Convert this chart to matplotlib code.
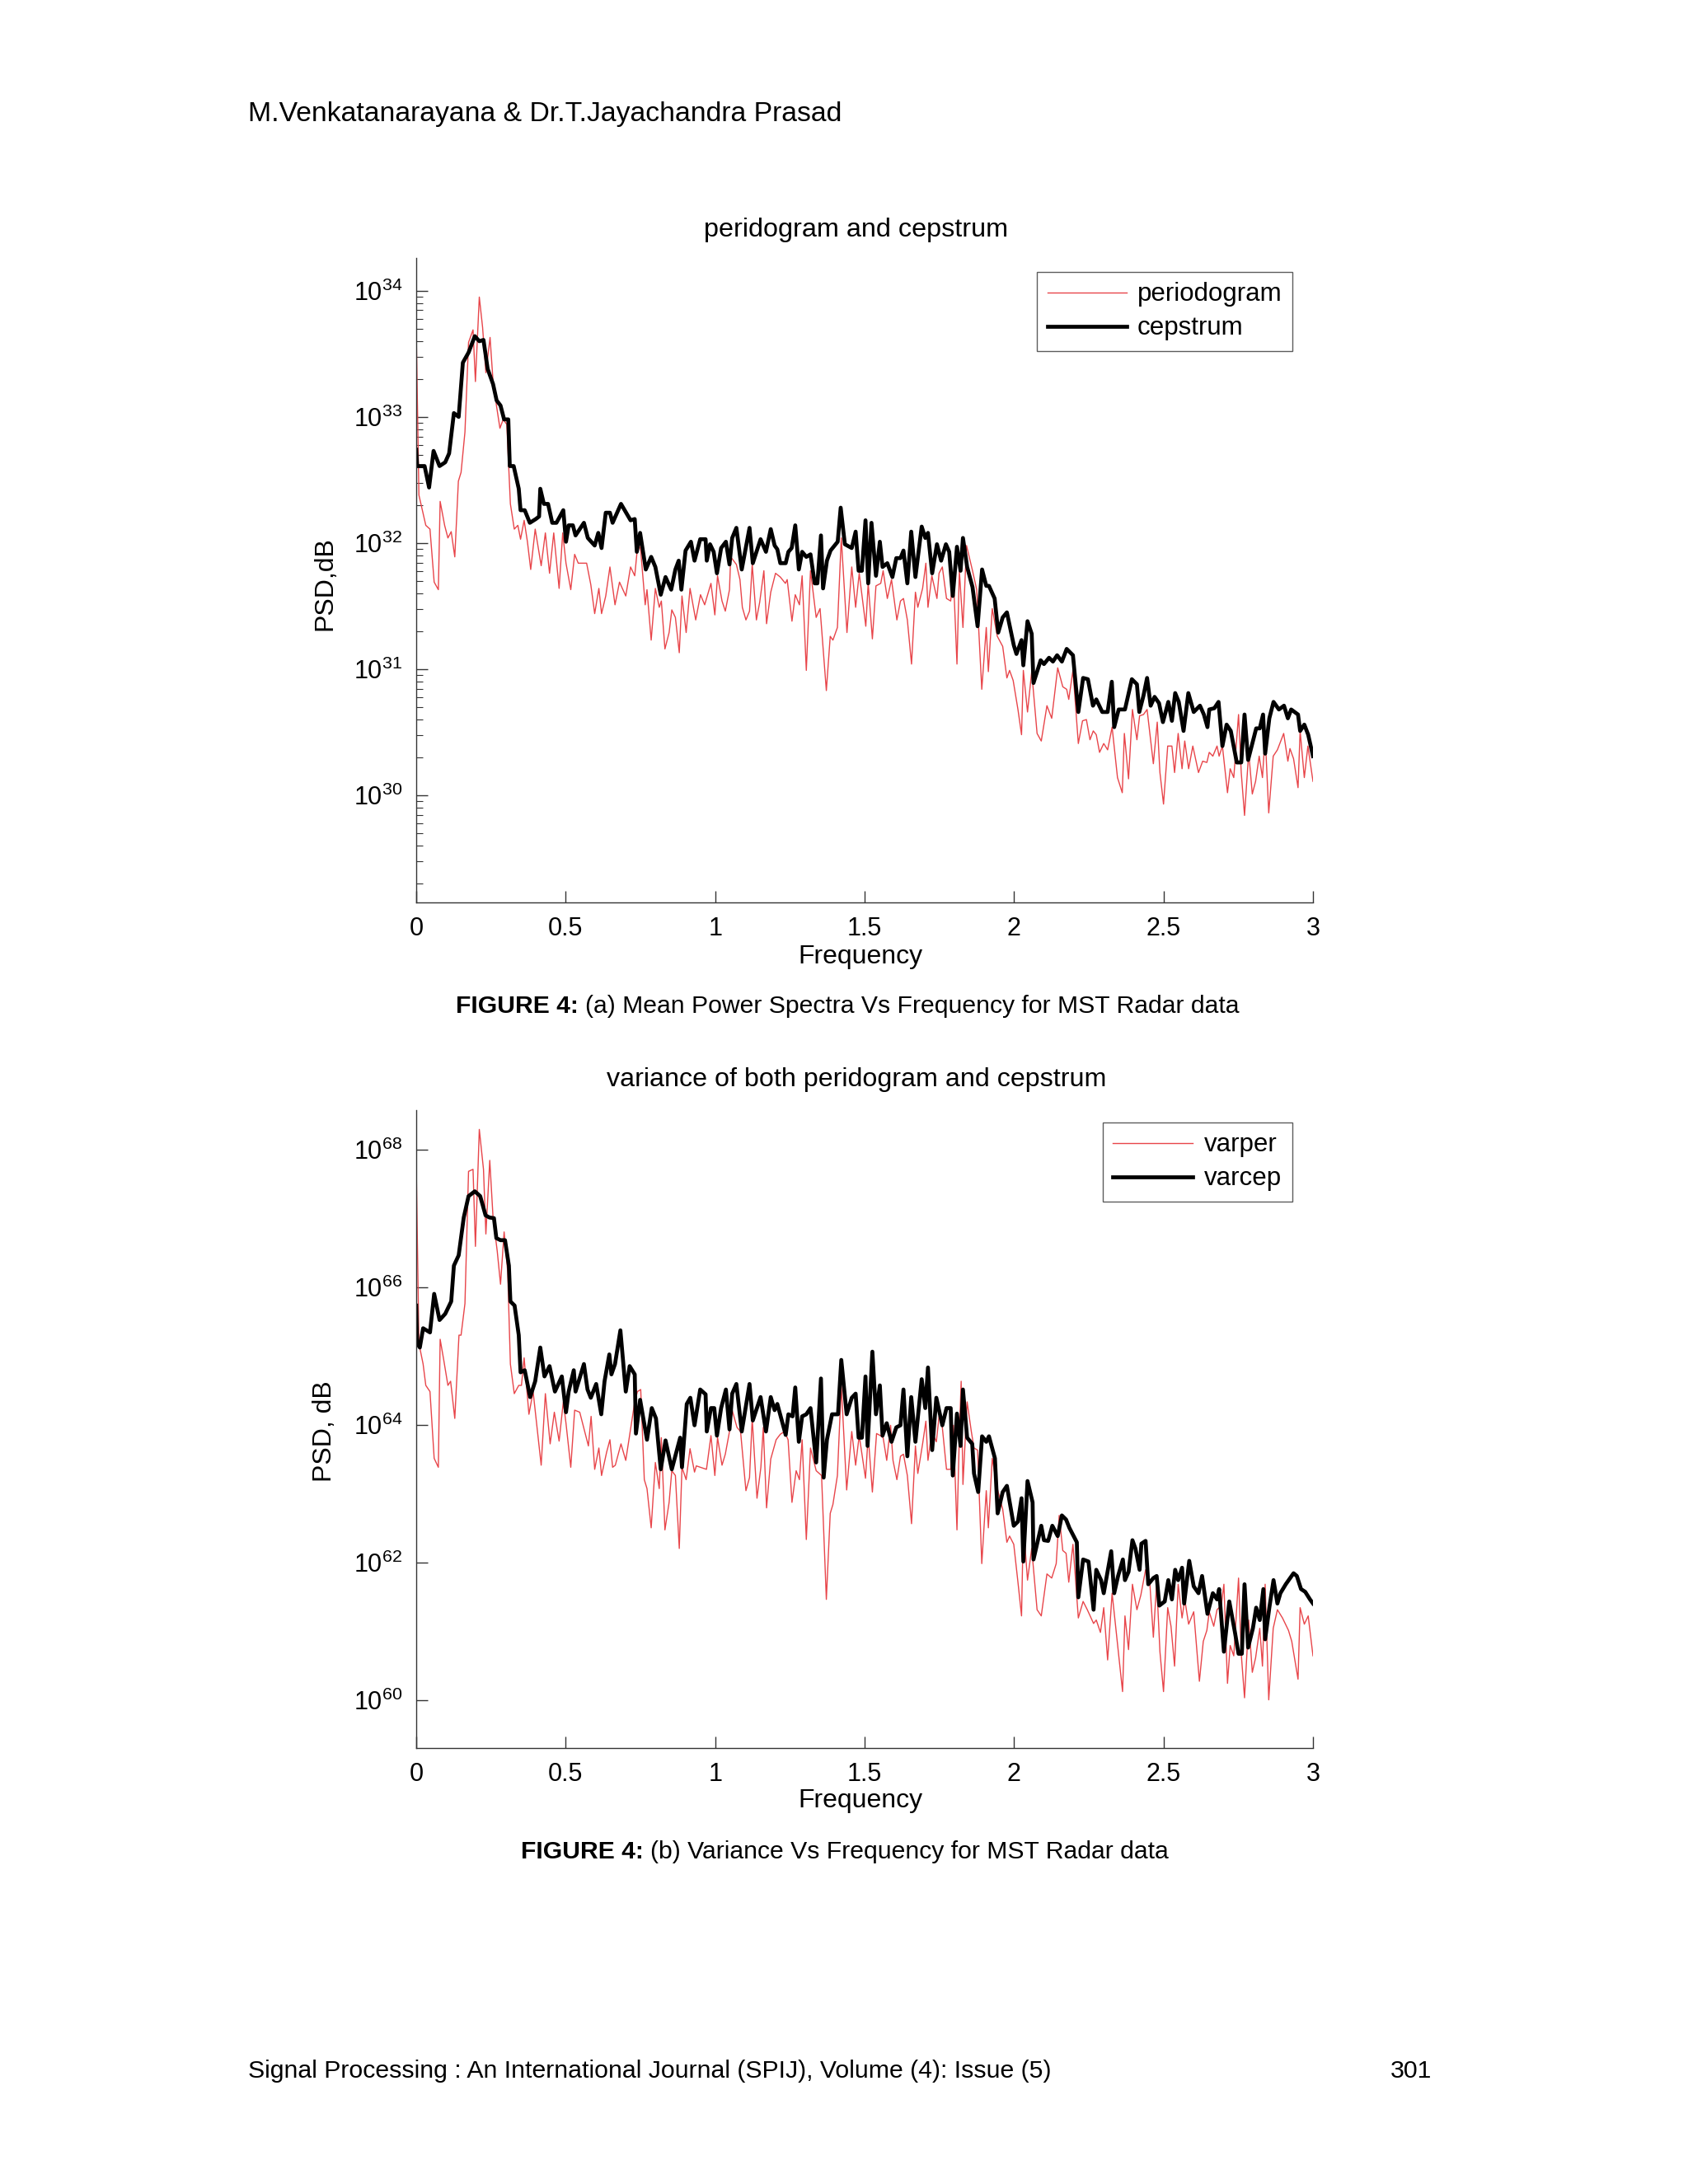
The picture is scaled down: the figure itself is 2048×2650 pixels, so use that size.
import numpy as np
import matplotlib
matplotlib.use("Agg")
import matplotlib.pyplot as plt
from matplotlib.ticker import LogLocator, NullLocator, FixedLocator

plt.rcParams['font.family'] = ['Liberation Sans', 'DejaVu Sans']
plt.rcParams['mathtext.fontset'] = 'custom'
plt.rcParams['mathtext.rm'] = 'Liberation Sans'

# ---- panel (a): mean power spectra, values as log10(PSD) ----
per_f = [0.000, 0.009, 0.032, 0.046, 0.060, 0.074, 0.080, 0.095, 0.106, 0.117, 0.129, 0.141, 0.150,
         0.163, 0.175, 0.190, 0.198, 0.211, 0.222, 0.233, 0.247, 0.257, 0.269, 0.280, 0.291, 0.303,
         0.315, 0.328, 0.340, 0.349, 0.361, 0.372, 0.383, 0.398, 0.418, 0.432, 0.446, 0.460, 0.478,
         0.490, 0.501, 0.517, 0.530, 0.542, 0.570, 0.584, 0.597, 0.611, 0.620, 0.634, 0.648, 0.665,
         0.680, 0.701, 0.717,
         0.731, 0.742, 0.751, 0.766, 0.772, 0.786, 0.800, 0.813, 0.820, 0.832, 0.846, 0.855, 0.867,
         0.880, 0.889, 0.903, 0.916, 0.935, 0.951, 0.965, 0.986, 0.999, 1.008, 1.023, 1.034, 1.048,
         1.052, 1.071, 1.083, 1.091, 1.103, 1.115, 1.124, 1.138, 1.149, 1.163, 1.172, 1.186, 1.202,
         1.218, 1.235, 1.241, 1.257, 1.268, 1.282, 1.291, 1.305, 1.319, 1.338, 1.351, 1.372, 1.385,
         1.394, 1.409, 1.422, 1.441, 1.457, 1.470, 1.482, 1.504,
         1.512, 1.526, 1.538, 1.554, 1.562, 1.576, 1.590, 1.608, 1.620, 1.630, 1.643, 1.657, 1.670,
         1.678, 1.694, 1.705, 1.712, 1.725, 1.742, 1.749, 1.760, 1.774, 1.788, 1.797, 1.809, 1.817,
         1.829, 1.841, 1.861, 1.875, 1.892, 1.907, 1.914, 1.927, 1.944, 1.962, 1.976, 1.985, 1.997,
         2.013, 2.025, 2.031, 2.045, 2.059, 2.077, 2.091, 2.110, 2.126, 2.146, 2.163, 2.176, 2.183,
         2.197, 2.215, 2.229, 2.242, 2.254, 2.265,
         2.275, 2.286, 2.300, 2.313, 2.328, 2.346, 2.362, 2.369, 2.383, 2.396, 2.411, 2.420, 2.433,
         2.445, 2.466, 2.479, 2.488, 2.500, 2.514, 2.528, 2.537, 2.549, 2.562, 2.571, 2.584, 2.598,
         2.617, 2.631, 2.645, 2.653, 2.665, 2.679, 2.686, 2.697, 2.714, 2.723, 2.735, 2.751, 2.760,
         2.771, 2.785, 2.797, 2.808, 2.820, 2.831, 2.840, 2.852, 2.867, 2.881, 2.902, 2.916, 2.923,
         2.935, 2.950, 2.957, 2.971, 2.983, 3.000]
per_db = [33.68, 32.38, 32.14, 32.11, 31.69, 31.63, 32.33, 32.14, 32.04, 32.09, 31.89, 32.49, 32.56,
          32.88, 33.59, 33.69, 33.28, 33.95, 33.71, 33.35, 33.63, 33.28, 33.08, 32.91, 32.98, 32.94,
          32.31, 32.11, 32.14, 32.03, 32.18, 32.01, 31.79, 32.11, 31.82, 32.08, 31.76, 32.08, 31.64,
          32.08, 31.84, 31.63, 31.91, 31.84, 31.84, 31.67, 31.44, 31.64, 31.44, 31.58, 31.81, 31.51,
          31.69, 31.58, 31.81,
          31.74, 32.01, 31.94, 31.51, 31.63, 31.23, 31.64, 31.49, 31.54, 31.16, 31.29, 31.47, 31.41,
          31.13, 31.58, 31.29, 31.64, 31.39, 31.59, 31.51, 31.68, 31.43, 31.74, 31.54, 31.46, 31.63,
          31.89, 31.83, 31.71, 31.49, 31.39, 31.46, 31.83, 31.39, 31.53, 31.78, 31.36, 31.61, 31.76,
          31.73, 31.68, 31.71, 31.38, 31.59, 31.51, 31.74, 30.99, 31.78, 31.41, 31.48, 30.83, 31.26,
          31.23, 31.33, 32.04, 31.29, 31.81, 31.49, 31.76, 31.34,
          31.68, 31.24, 31.66, 31.68, 31.78, 31.56, 31.71, 31.39, 31.54, 31.56, 31.39, 31.04, 31.61,
          31.49, 31.64, 31.84, 31.49, 31.74, 31.56, 31.76, 31.81, 31.56, 31.54, 31.74, 31.04, 31.78,
          31.33, 31.98, 31.78, 31.63, 30.84, 31.33, 30.98, 31.48, 31.26, 31.18, 30.93, 30.99, 30.91,
          30.68, 30.48, 30.99, 30.66, 30.98, 30.49, 30.43, 30.71, 30.61, 31.01, 30.86, 30.84, 30.76,
          30.99, 30.41, 30.59, 30.60, 30.44, 30.51,
          30.48, 30.34, 30.41, 30.36, 30.54, 30.14, 30.02, 30.49, 30.13, 30.68, 30.44, 30.63, 30.64,
          30.68, 30.25, 30.58, 30.18, 29.93, 30.39, 30.39, 30.18, 30.49, 30.21, 30.43, 30.21, 30.39,
          30.18, 30.27, 30.26, 30.34, 30.31, 30.39, 30.31, 30.39, 30.02, 30.21, 30.14, 30.64, 30.18,
          29.84, 30.34, 30.01, 30.11, 30.31, 30.14, 30.48, 29.86, 30.31, 30.36, 30.49, 30.27, 30.37,
          30.29, 30.06, 30.51, 30.14, 30.39, 30.11]

cep_f = [0.000, 0.003, 0.028, 0.043, 0.058, 0.078, 0.097, 0.110, 0.126, 0.142, 0.156, 0.175, 0.196,
         0.211, 0.225, 0.239, 0.257, 0.269, 0.282, 0.294, 0.308, 0.313, 0.326, 0.343, 0.349, 0.363,
         0.380, 0.400, 0.411, 0.415, 0.427, 0.441, 0.455, 0.469, 0.492, 0.501, 0.510, 0.524, 0.533,
         0.561, 0.574, 0.597, 0.609, 0.620, 0.634, 0.648, 0.657, 0.685, 0.717,
         0.731, 0.738, 0.749, 0.768, 0.786, 0.800, 0.818, 0.834, 0.853, 0.867, 0.878, 0.887, 0.901,
         0.919, 0.931, 0.950, 0.968, 0.972, 0.983, 0.995, 1.006, 1.020, 1.036, 1.048, 1.057, 1.071,
         1.089, 1.115, 1.126, 1.152, 1.170, 1.186, 1.199, 1.208, 1.218, 1.236, 1.245, 1.256, 1.268,
         1.280, 1.291, 1.305, 1.319, 1.333, 1.342, 1.354, 1.361, 1.374, 1.386, 1.410, 1.420, 1.434,
         1.457, 1.470, 1.480, 1.491, 1.503,
         1.512, 1.523, 1.538, 1.551, 1.560, 1.576, 1.593, 1.606, 1.620, 1.630, 1.643, 1.656, 1.670,
         1.691, 1.703, 1.712, 1.726, 1.742, 1.756, 1.772, 1.783, 1.795, 1.809, 1.821, 1.829, 1.843,
         1.861, 1.878, 1.893, 1.907, 1.916, 1.935, 1.947, 1.962, 1.976, 1.999, 2.008, 2.025, 2.031,
         2.045, 2.059, 2.065, 2.089, 2.100, 2.117, 2.130, 2.144, 2.160, 2.176, 2.197, 2.215, 2.231,
         2.247, 2.264,
         2.275, 2.295, 2.313, 2.327, 2.335, 2.350, 2.371, 2.394, 2.411, 2.419, 2.433, 2.445, 2.457,
         2.470, 2.485, 2.498, 2.516, 2.528, 2.539, 2.551, 2.567, 2.583, 2.601, 2.622, 2.635, 2.647,
         2.653, 2.670, 2.684, 2.697, 2.711, 2.725, 2.745, 2.760, 2.771, 2.783, 2.797, 2.810, 2.822,
         2.833, 2.840, 2.854, 2.868, 2.886, 2.903, 2.916, 2.927, 2.950, 2.957, 2.971, 2.984, 3.000]
cep_db = [32.74, 32.61, 32.61, 32.44, 32.73, 32.61, 32.64, 32.71, 33.03, 33.00, 33.43, 33.51, 33.64,
          33.60, 33.61, 33.38, 33.26, 33.13, 33.09, 32.98, 32.98, 32.61, 32.61, 32.43, 32.26, 32.26,
          32.16, 32.19, 32.21, 32.43, 32.31, 32.31, 32.16, 32.16, 32.26, 32.01, 32.14, 32.14, 32.06,
          32.16, 32.04, 31.98, 32.08, 31.96, 32.24, 32.24, 32.16, 32.31, 32.18,
          32.19, 31.93, 32.08, 31.79, 31.89, 31.81, 31.59, 31.73, 31.63, 31.79, 31.86, 31.63, 31.94,
          32.01, 31.86, 32.03, 32.03, 31.86, 31.99, 31.93, 31.76, 31.96, 32.01, 31.83, 32.04, 32.12,
          31.79, 32.12, 31.84, 32.03, 31.93, 32.11, 31.98, 31.95, 31.84, 31.84, 31.93, 31.96, 32.14,
          31.79, 31.93, 31.89, 31.91, 31.68, 31.68, 32.06, 31.64, 31.86, 31.94, 32.01, 32.28, 31.99,
          31.96, 32.09, 31.78, 31.78, 32.18,
          31.68, 32.16, 31.74, 32.01, 31.81, 31.84, 31.73, 31.88, 31.88, 31.94, 31.68, 32.09, 31.73,
          32.13, 32.04, 32.08, 31.76, 31.99, 31.86, 31.99, 31.93, 31.58, 31.97, 31.78, 32.04, 31.81,
          31.65, 31.34, 31.79, 31.66, 31.66, 31.56, 31.29, 31.41, 31.45, 31.19, 31.12, 31.23, 31.03,
          31.38, 31.28, 30.89, 31.07, 31.04, 31.09, 31.06, 31.11, 31.06, 31.16, 31.11, 30.66, 30.93,
          30.92, 30.71,
          30.76, 30.66, 30.66, 30.90, 30.54, 30.68, 30.68, 30.92, 30.88, 30.66, 30.79, 30.93, 30.71,
          30.78, 30.73, 30.58, 30.74, 30.59, 30.81, 30.74, 30.51, 30.81, 30.66, 30.71, 30.64, 30.54,
          30.68, 30.69, 30.74, 30.39, 30.56, 30.51, 30.26, 30.26, 30.64, 30.28, 30.41, 30.53, 30.53,
          30.64, 30.33, 30.61, 30.74, 30.68, 30.71, 30.61, 30.68, 30.64, 30.51, 30.56, 30.48, 30.31]

# ---- panel (b): variance, values as log10 ----
varper_f = [0.000, 0.009, 0.023, 0.032, 0.046, 0.060, 0.074, 0.080, 0.092, 0.106, 0.115, 0.129, 0.143,
            0.150, 0.163, 0.175, 0.190, 0.198, 0.211, 0.225, 0.233, 0.246, 0.257, 0.271, 0.282, 0.294,
            0.306, 0.315, 0.328, 0.343, 0.352, 0.361, 0.377, 0.391, 0.418, 0.432, 0.448, 0.462, 0.478,
            0.492, 0.501, 0.517, 0.530, 0.547, 0.576, 0.585, 0.597, 0.611, 0.620, 0.637, 0.648, 0.657,
            0.666, 0.685, 0.701, 0.717,
            0.731, 0.740, 0.751, 0.763, 0.772, 0.786, 0.800, 0.813, 0.820, 0.832, 0.846, 0.855, 0.867,
            0.880, 0.889, 0.903, 0.916, 0.931, 0.937, 0.971, 0.986, 0.999, 1.008, 1.023, 1.034, 1.048,
            1.057, 1.073, 1.085, 1.103, 1.115, 1.124, 1.140, 1.153, 1.161, 1.172, 1.186, 1.204, 1.218,
            1.232, 1.244, 1.257, 1.271, 1.282, 1.291, 1.305, 1.319, 1.338, 1.356, 1.372, 1.385, 1.394,
            1.409, 1.422, 1.440, 1.457, 1.470, 1.482, 1.503,
            1.512, 1.526, 1.540, 1.553, 1.562, 1.574, 1.587, 1.595, 1.608, 1.620, 1.630, 1.643, 1.657,
            1.670, 1.678, 1.694, 1.705, 1.712, 1.725, 1.740, 1.749, 1.760, 1.774, 1.788, 1.797, 1.809,
            1.817, 1.823, 1.829, 1.843, 1.857, 1.866, 1.878, 1.892, 1.907, 1.914, 1.927, 1.944, 1.962,
            1.976, 1.985, 1.999, 2.013, 2.025, 2.031, 2.045, 2.059, 2.077, 2.091, 2.110, 2.126, 2.141,
            2.151, 2.163, 2.174, 2.183, 2.197, 2.215, 2.231, 2.245, 2.266,
            2.275, 2.289, 2.300, 2.313, 2.328, 2.346, 2.363, 2.371, 2.383, 2.396, 2.411, 2.424, 2.440,
            2.454, 2.466, 2.477, 2.488, 2.500, 2.514, 2.525, 2.537, 2.549, 2.562, 2.571, 2.584, 2.601,
            2.620, 2.633, 2.645, 2.653, 2.668, 2.679, 2.693, 2.702, 2.714, 2.723, 2.735, 2.751, 2.760,
            2.771, 2.785, 2.797, 2.808, 2.822, 2.831, 2.840, 2.852, 2.867, 2.881, 2.898, 2.918, 2.929,
            2.950, 2.957, 2.971, 2.984, 3.000]
varper_db = [67.77, 65.18, 64.88, 64.57, 64.48, 63.51, 63.38, 65.24, 64.94, 64.57, 64.63, 64.09, 65.30,
             65.30, 65.76, 67.68, 67.71, 66.59, 68.29, 67.71, 66.77, 67.84, 67.01, 66.52, 66.04, 66.80,
             66.22, 64.88, 64.45, 64.57, 64.57, 64.97, 64.15, 64.48, 63.41, 64.45, 63.72, 64.18, 63.76,
             64.33, 64.02, 63.38, 64.21, 64.18, 63.69, 64.12, 63.35, 63.66, 63.26, 63.60, 63.78, 63.38,
             63.41, 63.72, 63.48, 63.93,
             64.33, 64.48, 64.51, 63.20, 63.07, 62.50, 63.45, 63.07, 63.81, 62.47, 62.87, 63.33, 63.26,
             62.20, 63.38, 63.20, 63.65, 63.31, 63.40, 63.35, 63.84, 63.26, 63.81, 63.41, 63.57, 63.90,
             64.21, 63.96, 63.90, 63.04, 63.23, 64.09, 62.93, 63.38, 63.96, 62.79, 63.50, 63.78, 63.86,
             63.90, 63.78, 62.87, 63.33, 63.20, 63.78, 62.33, 63.66, 63.33, 63.26, 61.46, 62.71, 62.84,
             63.26, 64.57, 63.05, 63.90, 63.41, 63.84, 63.22,
             63.84, 63.02, 63.87, 63.84, 63.81, 63.48, 63.99, 63.48, 63.20, 63.54, 63.57, 63.26, 62.56,
             63.69, 63.29, 63.72, 64.05, 63.48, 63.90, 63.75, 64.12, 63.96, 63.35, 63.35, 63.99, 62.47,
             63.84, 64.63, 63.13, 64.33, 63.90, 63.66, 63.63, 61.98, 63.04, 62.50, 63.51, 63.07, 62.77,
             62.29, 62.38, 62.26, 61.71, 61.22, 62.56, 61.74, 62.20, 61.31, 61.22, 61.83, 61.77, 61.98,
             62.68, 62.17, 62.13, 61.71, 62.26, 61.19, 61.43, 61.31, 61.11,
             61.16, 60.98, 61.34, 60.58, 61.55, 60.82, 60.12, 61.22, 60.73, 61.68, 61.31, 61.52, 61.89,
             61.71, 60.91, 61.71, 60.70, 60.12, 61.34, 61.07, 60.49, 61.68, 61.19, 61.46, 61.10, 61.28,
             60.27, 60.85, 61.01, 61.28, 61.07, 61.31, 61.37, 61.68, 60.24, 60.79, 60.64, 61.77, 60.67,
             60.03, 61.16, 60.40, 60.61, 61.04, 60.49, 61.68, 60.00, 61.04, 61.31, 61.19, 61.01, 60.85,
             60.30, 61.34, 61.10, 61.22, 60.64]

varcep_f = [0.000, 0.003, 0.012, 0.023, 0.046, 0.060, 0.078, 0.097, 0.117, 0.126, 0.142, 0.159, 0.175,
            0.196, 0.214, 0.232, 0.245, 0.260, 0.268, 0.282, 0.297, 0.310, 0.315, 0.329, 0.343, 0.349,
            0.363, 0.381, 0.398, 0.415, 0.429, 0.446, 0.464, 0.487, 0.501, 0.510, 0.527, 0.533, 0.561,
            0.573, 0.584, 0.602, 0.619, 0.630, 0.646, 0.653, 0.665, 0.683, 0.701, 0.714,
            0.731, 0.735, 0.749, 0.772, 0.788, 0.802, 0.818, 0.834, 0.855, 0.883, 0.889, 0.905, 0.917,
            0.931, 0.950, 0.968, 0.972, 0.986, 0.997, 1.006, 1.020, 1.036, 1.048, 1.057, 1.071, 1.089,
            1.115, 1.126, 1.152, 1.170, 1.186, 1.199, 1.208, 1.236, 1.245, 1.259, 1.268, 1.280, 1.291,
            1.305, 1.319, 1.338, 1.354, 1.363, 1.374, 1.391, 1.411, 1.422, 1.440, 1.457, 1.470, 1.480,
            1.491, 1.503,
            1.510, 1.526, 1.538, 1.551, 1.560, 1.574, 1.590, 1.606, 1.620, 1.630, 1.643, 1.656, 1.670,
            1.691, 1.703, 1.712, 1.726, 1.740, 1.760, 1.774, 1.788, 1.795, 1.809, 1.821, 1.829, 1.843,
            1.860, 1.866, 1.880, 1.893, 1.907, 1.916, 1.936, 1.945, 1.962, 1.976, 1.999, 2.013, 2.025,
            2.031, 2.045, 2.062, 2.065, 2.091, 2.100, 2.114, 2.128, 2.146, 2.160, 2.174, 2.185, 2.210,
            2.215, 2.231, 2.249, 2.266,
            2.275, 2.291, 2.300, 2.325, 2.335, 2.348, 2.364, 2.371, 2.383, 2.396, 2.406, 2.420, 2.426,
            2.440, 2.449, 2.466, 2.477, 2.486, 2.504, 2.516, 2.528, 2.539, 2.549, 2.562, 2.569, 2.586,
            2.601, 2.617, 2.629, 2.647, 2.665, 2.679, 2.686, 2.702, 2.720, 2.739, 2.751, 2.762, 2.771,
            2.783, 2.799, 2.810, 2.822, 2.834, 2.840, 2.854, 2.868, 2.881, 2.891, 2.909, 2.935, 2.946,
            2.960, 2.974, 2.990, 3.000]
varcep_db = [65.73, 65.18, 65.12, 65.40, 65.34, 65.90, 65.52, 65.61, 65.79, 66.31, 66.46, 67.01, 67.32,
             67.39, 67.32, 67.04, 67.01, 67.00, 66.71, 66.68, 66.68, 66.31, 65.79, 65.73, 65.30, 64.76,
             64.79, 64.40, 64.63, 65.12, 64.70, 64.85, 64.48, 64.70, 64.18, 64.48, 64.79, 64.48, 64.88,
             64.51, 64.39, 64.59, 64.15, 64.63, 65.02, 64.73, 64.88, 65.37, 64.48, 64.85,
             64.73, 63.87, 64.36, 63.78, 64.24, 64.09, 63.35, 63.77, 63.35, 63.81, 63.38, 64.30, 64.39,
             63.99, 64.51, 64.44, 63.90, 64.24, 64.24, 63.84, 64.24, 64.51, 63.93, 64.45, 64.59, 63.90,
             64.59, 64.06, 64.40, 63.90, 64.40, 64.21, 64.30, 63.85, 64.15, 64.12, 64.54, 63.75, 64.12,
             64.15, 64.24, 63.45, 64.67, 63.23, 63.78, 64.15, 64.15, 64.94, 64.15, 64.39, 64.45, 63.81,
             63.81, 64.70,
             63.69, 65.06, 64.15, 64.57, 63.84, 64.02, 63.75, 63.96, 63.99, 64.51, 63.54, 64.40, 63.75,
             64.66, 64.24, 64.83, 63.63, 64.39, 63.99, 64.24, 64.24, 63.26, 64.16, 63.69, 64.51, 63.81,
             63.72, 63.29, 63.02, 63.83, 63.75, 63.83, 63.51, 62.71, 63.02, 63.11, 62.53, 62.59, 62.93,
             62.01, 63.18, 62.87, 62.04, 62.53, 62.32, 62.31, 62.53, 62.38, 62.68, 62.62, 62.50, 62.29,
             61.49, 62.04, 62.01, 61.31,
             61.89, 61.74, 61.55, 62.16, 61.55, 61.80, 62.04, 61.74, 61.86, 62.32, 62.20, 61.89, 62.27,
             62.31, 61.68, 61.77, 61.80, 61.37, 61.43, 61.74, 61.46, 61.89, 61.74, 61.92, 61.40, 62.02,
             61.65, 61.55, 61.80, 61.25, 61.55, 61.46, 61.61, 60.70, 61.43, 60.98, 60.67, 60.67, 61.68,
             60.76, 61.04, 61.34, 61.16, 61.61, 60.88, 61.34, 61.74, 61.40, 61.55, 61.68, 61.84, 61.80,
             61.61, 61.57, 61.46, 61.40]

W, H = 2048, 2650
fig = plt.figure(figsize=(W / 100, H / 100), dpi=100)
fig.patch.set_facecolor('white')


def px_text(x, y, s, **kw):
    fig.text(x / W, 1 - y / H, s, **kw)


def make_axes(top, bottom):
    ax = fig.add_axes([505 / W, 1 - bottom / H, 1088 / W, (bottom - top) / H])
    ax.spines['top'].set_visible(False)
    ax.spines['right'].set_visible(False)
    for s in ('left', 'bottom'):
        ax.spines[s].set_linewidth(1.0)
        ax.spines[s].set_color('#333333')
    ax.set_xlim(0, 3)
    ax.set_xticks([0, 0.5, 1, 1.5, 2, 2.5, 3])
    ax.set_xticklabels(['0', '0.5', '1', '1.5', '2', '2.5', '3'])
    ax.tick_params(which='major', direction='in', length=10, width=1.0,
                   labelsize=22, pad=12, color='#333333')
    ax.tick_params(which='minor', direction='in', length=6, width=0.8, color='#333333')
    ax.tick_params(axis='x', which='major', pad=12)
    return ax


def add_legend(ax, top_px, axes_top, axes_h, textpad):
    leg = ax.legend(loc='upper right',
                    bbox_to_anchor=((1568 - 505) / 1088, 1 - (top_px - axes_top) / axes_h),
                    fontsize=22.5, frameon=True, fancybox=False, edgecolor='#333333',
                    borderaxespad=0, handlelength=3.1, borderpad=0.4, labelspacing=0.35,
                    handletextpad=textpad)
    leg.get_frame().set_linewidth(1.0)
    return leg


red = '#e8454a'

# panel (a)
ax1 = make_axes(313, 1095)
ax1.semilogy(per_f, 10.0 ** np.array(per_db), color=red, lw=1.0, label='periodogram')
ax1.semilogy(cep_f, 10.0 ** np.array(cep_db), color='black', lw=3.4, label='cepstrum')
ax1.set_ylim(10 ** 29.15, 10 ** 34.26)
ax1.yaxis.set_major_locator(FixedLocator([1e30, 1e31, 1e32, 1e33, 1e34]))
ax1.yaxis.set_minor_locator(LogLocator(base=10, subs=np.arange(2, 10), numticks=20))
add_legend(ax1, 330, 313, 782, 0.4)

# panel (b)
ax2 = make_axes(1347, 2121)
ax2.semilogy(varper_f, 10.0 ** np.array(varper_db), color=red, lw=1.0, label='varper')
ax2.semilogy(varcep_f, 10.0 ** np.array(varcep_db), color='black', lw=3.4, label='varcep')
ax2.set_ylim(10 ** 59.3, 10 ** 68.57)
ax2.yaxis.set_major_locator(FixedLocator([1e60, 1e62, 1e64, 1e66, 1e68]))
ax2.yaxis.set_minor_locator(NullLocator())
add_legend(ax2, 1362, 1347, 774, 0.45)

# titles, labels
px_text(1039, 279, 'peridogram and cepstrum', ha='center', va='center', fontsize=23.3)
px_text(1044, 1161, 'Frequency', ha='center', va='center', fontsize=23)
px_text(394, 708, 'PSD,dB', ha='center', va='center', rotation=90, fontsize=23)
px_text(1039, 1310, 'variance of both peridogram and cepstrum', ha='center', va='center', fontsize=23.2)
px_text(1044, 2185, 'Frequency', ha='center', va='center', fontsize=23)
px_text(394, 1737, 'PSD, dB', ha='center', va='center', rotation=90, fontsize=23)

# page text
px_text(301, 139, 'M.Venkatanarayana & Dr.T.Jayachandra Prasad', ha='left', va='center', fontsize=24.3)
px_text(702, 1221, 'FIGURE 4:', ha='right', va='center', fontsize=21.7, fontweight='bold')
px_text(710, 1221, '(a) Mean Power Spectra Vs Frequency for MST Radar data', ha='left', va='center', fontsize=21.7)
px_text(781, 2247, 'FIGURE 4:', ha='right', va='center', fontsize=21.7, fontweight='bold')
px_text(789, 2247, '(b) Variance Vs Frequency for MST Radar data', ha='left', va='center', fontsize=21.7)
px_text(301, 2513, 'Signal Processing : An International Journal (SPIJ), Volume (4): Issue (5)',
        ha='left', va='center', fontsize=21.8)
px_text(1737, 2513, '301', ha='right', va='center', fontsize=21.8)

fig.savefig('out.png', dpi=100, facecolor='white')
